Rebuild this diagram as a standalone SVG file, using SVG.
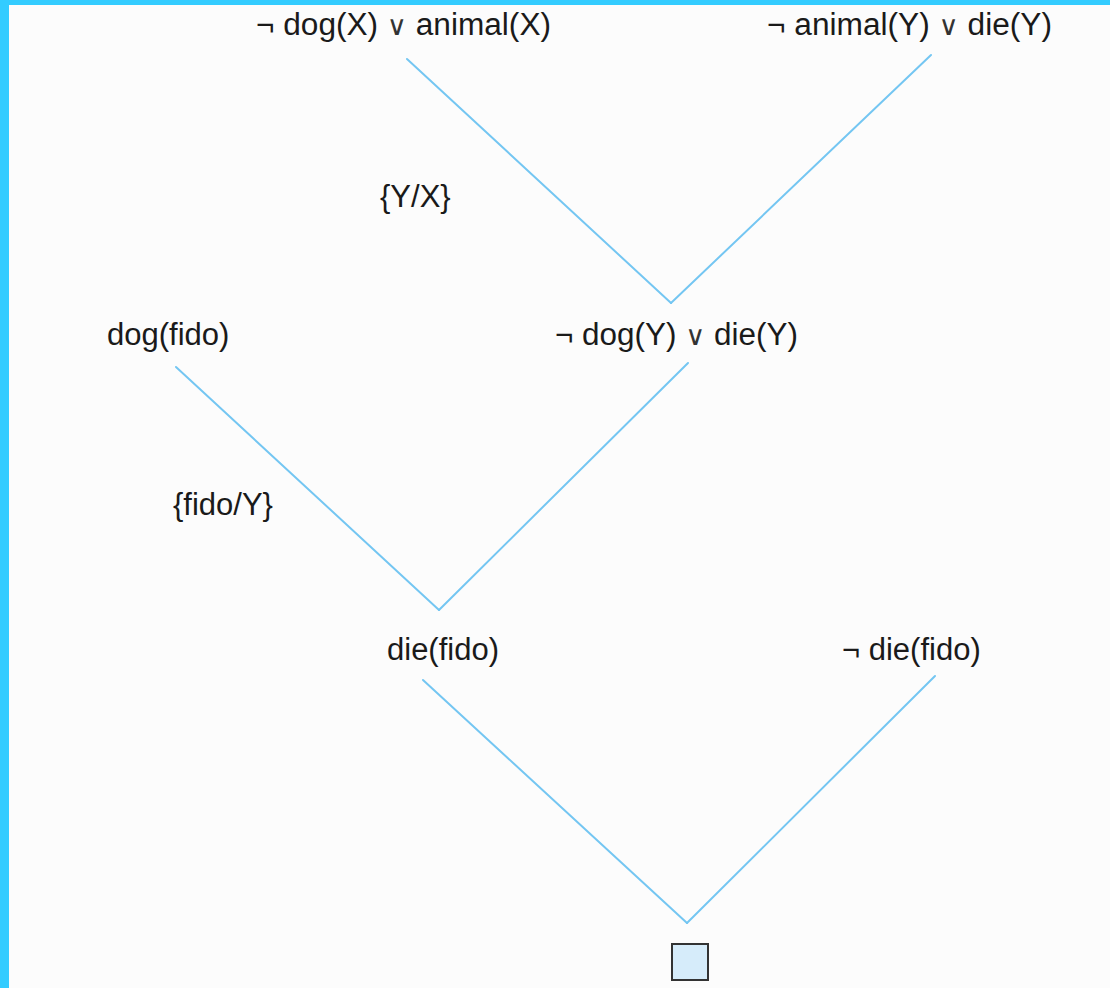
<svg xmlns="http://www.w3.org/2000/svg" width="1110" height="988" viewBox="0 0 1110 988">
<style>
.t{font-family:"Liberation Sans",Arial,sans-serif;font-size:31px;fill:#1a1a1a}
.o{font-family:"DejaVu Sans",sans-serif;font-size:27px;fill:#333}
.e{stroke:#74c6f2;stroke-width:2;fill:none;stroke-linecap:round}
</style>
<rect x="0" y="0" width="1110" height="988" fill="#fcfcfc"/>
<rect x="0" y="0" width="1110" height="5" fill="#33ccff"/>
<rect x="0" y="0" width="9" height="988" fill="#33ccff"/>
<g id="connectors">
<line class="e" x1="407" y1="59" x2="671" y2="303"/>
<line class="e" x1="931" y1="55" x2="671" y2="303"/>
<line class="e" x1="176" y1="367" x2="439" y2="610"/>
<line class="e" x1="688" y1="363" x2="439" y2="610"/>
<line class="e" x1="423" y1="680" x2="687" y2="923"/>
<line class="e" x1="935" y1="676" x2="687" y2="923"/>
</g>
<g id="n1"><text class="t" x="256" y="35" textLength="295" lengthAdjust="spacingAndGlyphs">¬ dog(X) <tspan class="o">∨</tspan> animal(X)</text></g>
<g id="n2"><text class="t" x="767" y="35" textLength="285" lengthAdjust="spacingAndGlyphs">¬ animal(Y) <tspan class="o">∨</tspan> die(Y)</text></g>
<g id="n3"><text class="t" x="555" y="345" textLength="243" lengthAdjust="spacingAndGlyphs">¬ dog(Y) <tspan class="o">∨</tspan> die(Y)</text></g>
<g id="n4"><text class="t" x="107" y="345">dog(fido)</text></g>
<g id="n5"><text class="t" x="387" y="660">die(fido)</text></g>
<g id="n6"><text class="t" x="842" y="660">¬ die(fido)</text></g>
<g id="l1"><text class="t" x="380" y="207">{Y/X}</text></g>
<g id="l2"><text class="t" x="173" y="515">{fido/Y}</text></g>
<g id="n7"><rect x="672" y="944" width="36" height="36" fill="#d6ecfa" stroke="#333" stroke-width="2"/></g>
</svg>
